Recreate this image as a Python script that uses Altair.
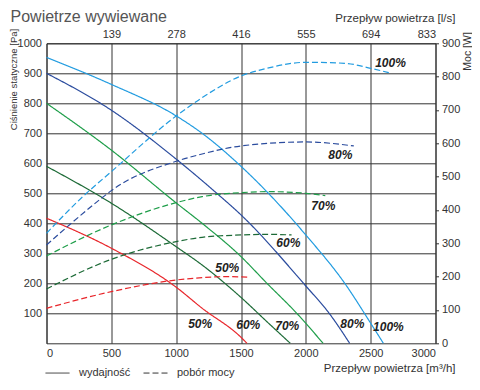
import altair as alt
import pandas as pd

FONT = "Liberation Sans"

speeds = ["100%", "80%", "70%", "60%", "50%"]
colors = ["#229ce0", "#2b4c9e", "#1f9e4a", "#1c6a36", "#e8262b"]
kinds = ["wydajność", "pobór mocy"]

# Performance curves: flow [m3/h] -> static pressure [Pa]
perf_flow = {
    "100%": [0, 500, 1000, 1200, 1500, 1700, 2000, 2300, 2500, 2598],
    "80%": [0, 500, 1000, 1300, 1500, 2000, 2180, 2338],
    "70%": [0, 500, 1000, 1200, 1500, 1700, 1930, 2133],
    "60%": [0, 500, 1000, 1200, 1500, 1700, 1880],
    "50%": [0, 500, 1000, 1200, 1500, 1546],
}
perf_pressure = {
    "100%": [953, 863, 758, 700, 590, 505, 361, 200, 67, 0],
    "80%": [900, 777, 614, 505, 428, 191, 100, 0],
    "70%": [800, 644, 468, 400, 289, 200, 100, 0],
    "60%": [590, 467, 322, 261, 153, 72, 0],
    "50%": [417, 317, 187, 117, 20, 0],
}

# Power curves: flow [m3/h] -> power [W]
power_flow = {
    "100%": [0, 280, 500, 1000, 1200, 1500, 1700, 2000, 2300, 2500, 2640],
    "80%": [0, 440, 500, 1000, 1200, 1500, 2000, 2370],
    "70%": [0, 500, 1000, 1200, 1500, 1700, 2000, 2150],
    "60%": [0, 500, 1000, 1200, 1500, 1700, 1890],
    "50%": [0, 500, 1000, 1200, 1400, 1570],
}
power_watts = {
    "100%": [330, 440, 515, 682, 737, 802, 825, 843, 840, 825, 812],
    "80%": [295, 440, 458, 546, 568, 592, 604, 592],
    "70%": [262, 355, 422, 440, 452, 455, 450, 443],
    "60%": [163, 252, 305, 318, 325, 327, 325],
    "50%": [105, 155, 190, 197, 200, 198],
}

label_text = ["100%", "80%", "70%", "60%", "50%", "50%", "60%", "70%", "80%", "100%"]
label_flow = [2653, 2266, 2135, 1865, 1394, 1185, 1556, 1857, 2359, 2637]
label_pressure = [934, 628, 458, 334, 251, 64, 61, 58, 64, 54]

x_ticks = [0, 500, 1000, 1500, 2000, 2500, 3000]
top_tick_values = [500, 1000, 1500, 2000, 2500, 3000]
top_tick_labels = ["139", "278", "416", "555", "694", "833"]
left_ticks = [100, 200, 300, 400, 500, 600, 700, 800, 900, 1000]
right_ticks = [0, 100, 200, 300, 400, 500, 600, 700, 800, 900]

rows = []
for s in speeds:
    for q, p in zip(perf_flow[s], perf_pressure[s]):
        rows.append({"q": q, "p": p, "speed": s, "kind": kinds[0]})
solid_df = pd.DataFrame(rows)

rows = []
for s in speeds:
    for q, w in zip(power_flow[s], power_watts[s]):
        rows.append({"q": q, "w": w, "speed": s, "kind": kinds[1]})
dash_df = pd.DataFrame(rows)

labels_df = pd.DataFrame({"q": label_flow, "p": label_pressure, "t": label_text})

top_expr = " : ".join(
    f"datum.value == {v} ? '{l}'" for v, l in zip(top_tick_values, top_tick_labels)
) + " : ''"

xscale = alt.Scale(domain=[0, 3000], nice=False)
pscale = alt.Scale(domain=[0, 1000], nice=False)
color = alt.Color("speed:N", scale=alt.Scale(domain=speeds, range=colors), legend=None)

bottom_axis = alt.Axis(
    orient="bottom", values=x_ticks, format="d", grid=True, gridColor="#333", gridOpacity=1,
    ticks=False, domain=False, labelPadding=4, labelFontSize=11, labelColor="#333",
    title="Przepływ powietrza [m³/h]", titleX=408.5, titleY=27.7, titleAlign="right",
    titleBaseline="alphabetic", titleFontSize=11.5, titleFontWeight="normal", titleColor="#333")
left_axis = alt.Axis(
    orient="left", values=left_ticks, format="d", grid=True, gridColor="#333", gridOpacity=1,
    ticks=False, domain=False, labelPadding=5, labelFontSize=11, labelColor="#333",
    title="Ciśnienie statyczne [Pa]", titleAngle=-90, titleAlign="right", titleBaseline="middle",
    titleX=-33.5, titleY=-15, titleFontSize=9.5, titleFontWeight="normal", titleColor="#333")

legend = alt.Legend(
    orient="none", legendX=-1.5, legendY=317, direction="horizontal", title=None,
    symbolType="stroke", symbolStrokeColor="#333", symbolStrokeWidth=1, symbolSize=576,
    labelFontSize=11, labelColor="#333", labelFont=FONT, labelOffset=9,
    columnPadding=10, padding=0,
)
dash = alt.StrokeDash("kind:N", scale=alt.Scale(domain=kinds, range=[[1, 0], [6, 3]]), legend=legend)

solid = alt.Chart(solid_df).mark_line(strokeWidth=1.2, interpolate="monotone").encode(
    x=alt.X("q:Q", scale=xscale, axis=bottom_axis),
    y=alt.Y("p:Q", scale=pscale, axis=left_axis),
    color=color,
    strokeDash=dash,
    detail="speed:N",
)

labels = alt.Chart(labels_df).mark_text(
    fontSize=12, fontWeight="bold", fontStyle="italic", color="#222", font=FONT,
    align="center", baseline="middle",
).encode(
    x=alt.X("q:Q", scale=xscale, axis=bottom_axis),
    y=alt.Y("p:Q", scale=pscale, axis=left_axis),
    text="t:N",
)

dashed = alt.Chart(dash_df).mark_line(strokeWidth=1.2, interpolate="monotone").encode(
    x=alt.X("q:Q", scale=xscale, axis=alt.Axis(
        orient="top", values=top_tick_values, labelExpr=top_expr, grid=False,
        ticks=False, domain=False, labelPadding=4, labelFontSize=11, labelColor="#333",
        title="Przepływ powietrza [l/s]", titleX=408.5, titleY=-22, titleAlign="right",
        titleBaseline="alphabetic", titleFontSize=11.5, titleFontWeight="normal", titleColor="#333")),
    y=alt.Y("w:Q", scale=alt.Scale(domain=[0, 900], nice=False), axis=alt.Axis(
        orient="right", values=right_ticks, format="d", grid=False, ticks=True, tickSize=3, tickColor="#333",
        domain=False, labelPadding=3, labelFontSize=11, labelColor="#333",
        title="Moc [W]", titleAngle=-90, titleAlign="right", titleBaseline="middle",
        titleX=31.5, titleY=-11.6, titleFontSize=10.5, titleFontWeight="normal", titleColor="#333")),
    color=color,
    strokeDash=dash,
    detail="speed:N",
)

pa_layer = alt.layer(solid, labels)

chart = alt.layer(pa_layer, dashed).resolve_scale(y="independent").resolve_axis(x="independent").properties(
    width=389, height=300,
    autosize=alt.AutoSizeParams(type="none"),
    padding={"left": 38.5, "top": 35.3, "right": 36.5, "bottom": 38.7},
    title=alt.Title("Powietrze wywiewane", anchor="start", fontSize=16, font=FONT,
                    fontWeight="normal", color="#555", dx=2.5, dy=13, offset=0),
).configure_view(stroke="#333", strokeWidth=1).configure_axis(
    labelFont=FONT, titleFont=FONT
).configure_text(font=FONT)

chart.save("out.html", embed_options={"renderer": "svg", "actions": False})
